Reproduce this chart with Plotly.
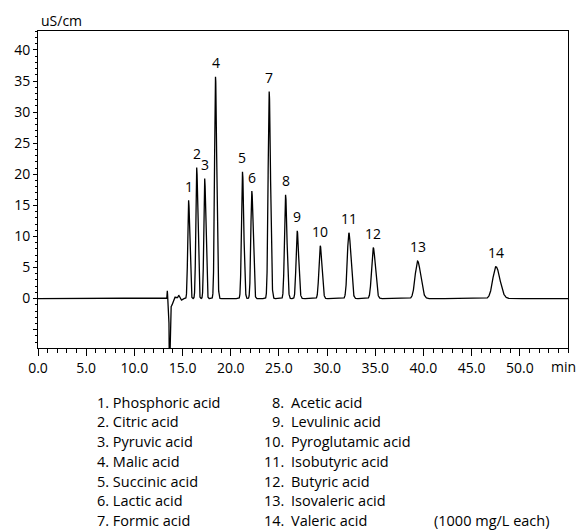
import numpy as np
import plotly.graph_objects as go

# ---- data ----
peak_numbers = [str(i) for i in range(1, 15)]
peak_names = ["Phosphoric acid", "Citric acid", "Pyruvic acid", "Malic acid",
              "Succinic acid", "Lactic acid", "Formic acid", "Acetic acid",
              "Levulinic acid", "Pyroglutamic acid", "Isobutyric acid",
              "Butyric acid", "Isovaleric acid", "Valeric acid"]
retention_min = [15.63, 16.47, 17.30, 18.42, 21.22, 22.19, 23.99, 25.69,
                 26.90, 29.29, 32.26, 34.79, 39.39, 47.52]
height_uScm = [15.8, 21.1, 19.3, 35.7, 20.4, 17.3, 33.3, 16.7,
               10.9, 8.5, 10.6, 8.2, 6.05, 5.15]
width_min = [0.10, 0.10, 0.10, 0.11, 0.115, 0.115, 0.12, 0.125,
             0.13, 0.15, 0.18, 0.19, 0.28, 0.36]

# system (water) dip / disturbance near the void volume
dist_time = [13.42, 13.66, 13.82, 14.15, 14.60, 14.88]
dist_amp = [1.3, -16.0, -1.3, 0.3, 0.55, -0.25]
dist_width = [0.025, 0.04, 0.16, 0.15, 0.07, 0.06]

x_tick_vals = [0, 5, 10, 15, 20, 25, 30, 35, 40, 45, 50]
x_tick_text = ["0.0", "5.0", "10.0", "15.0", "20.0", "25.0", "30.0",
               "35.0", "40.0", "45.0", "50.0"]
y_tick_vals = [-5, 0, 5, 10, 15, 20, 25, 30, 35, 40]
y_tick_text = ["", "0", "5", "10", "15", "20", "25", "30", "35", "40"]
x_range = [0, 55]
y_range = [-7.95, 43.05]

# ---- build chromatogram from peak table ----
t = np.linspace(0, 55, 11001)
sig = np.zeros_like(t)
for rt, h, w in zip(retention_min, height_uScm, width_min):
    s = np.where(t < rt, w * 0.9, w * 1.15)
    sig += h * np.exp(-0.5 * ((t - rt) / s) ** 2)
for rt, a, w in zip(dist_time, dist_amp, dist_width):
    sig += a * np.exp(-0.5 * ((t - rt) / w) ** 2)

FONT = "Open Sans"
W, H = 577, 531
ML, MR, MT, MB = 38, 9, 31, 183
PW, PH = W - ML - MR, H - MT - MB


def px(xp):
    return (xp - ML) / PW


def py(yp):
    return (H - MB - yp) / PH


fig = go.Figure()
fig.add_trace(go.Scatter(x=t, y=sig, mode="lines",
                         line=dict(color="black", width=1.3),
                         hoverinfo="skip", showlegend=False))

ann = []
pf = dict(family=FONT, size=14, color="black")
# peak number labels
for n, rt, h in zip(peak_numbers, retention_min, height_uScm):
    ann.append(dict(x=rt, y=h, xref="x", yref="y", text=n, showarrow=False,
                    yanchor="middle", yshift=14, font=pf))
# unit label
ann.append(dict(x=px(39), y=py(21), xref="paper", yref="paper", text="uS/cm",
                showarrow=False, xanchor="left", yanchor="middle", font=pf))
# "min" axis label
ann.append(dict(x=px(563), y=py(366), xref="paper", yref="paper", text="min",
                showarrow=False, xanchor="center", yanchor="middle", font=pf))
# compound legend
lf = dict(family=FONT, size=14.5, color="black")
for i in range(7):
    yy = py(402 + 19.75 * i)
    ann.append(dict(x=px(95), y=yy, xref="paper", yref="paper",
                    text=f"{peak_numbers[i]}. {peak_names[i]}", showarrow=False,
                    xanchor="left", yanchor="middle", font=lf))
    j = i + 7
    ann.append(dict(x=px(286), y=yy, xref="paper", yref="paper",
                    text=f"{peak_numbers[j]}.", showarrow=False,
                    xanchor="right", yanchor="middle", font=lf))
    ann.append(dict(x=px(289), y=yy, xref="paper", yref="paper",
                    text=peak_names[j], showarrow=False,
                    xanchor="left", yanchor="middle", font=lf))
ann.append(dict(x=px(432), y=py(402 + 19.75 * 6), xref="paper", yref="paper",
                text="(1000 mg/L each)", showarrow=False,
                xanchor="left", yanchor="middle", font=lf))

fig.update_layout(
    width=W, height=H,
    margin=dict(l=ML, r=MR, t=MT, b=MB, pad=0),
    paper_bgcolor="white", plot_bgcolor="white",
    font=dict(family=FONT, size=14, color="black"),
    annotations=ann,
    xaxis=dict(range=x_range, tickmode="array", tickvals=x_tick_vals,
               ticktext=x_tick_text, ticks="outside", ticklen=7, tickwidth=1,
               tickcolor="black", showline=True, linecolor="black",
               linewidth=1, mirror=True, showgrid=False, zeroline=False,
               tickfont=pf,
               minor=dict(tickmode="linear", tick0=0, dtick=1, ticks="outside",
                          ticklen=4, tickwidth=1, tickcolor="black",
                          showgrid=False)),
    yaxis=dict(range=y_range, tickmode="array", tickvals=y_tick_vals,
               ticktext=y_tick_text, ticks="outside", ticklen=4, tickwidth=1,
               tickcolor="black", showline=True, linecolor="black",
               linewidth=1, mirror=True, showgrid=False, zeroline=False,
               tickfont=pf,
               minor=dict(tickmode="linear", tick0=0, dtick=1, ticks="outside",
                          ticklen=2, tickwidth=1, tickcolor="black",
                          showgrid=False)),
)

fig.write_html("out.html", config={"displayModeBar": False},
               post_script="document.body.style.margin='0px';"
                           "document.body.style.overflow='hidden';")
